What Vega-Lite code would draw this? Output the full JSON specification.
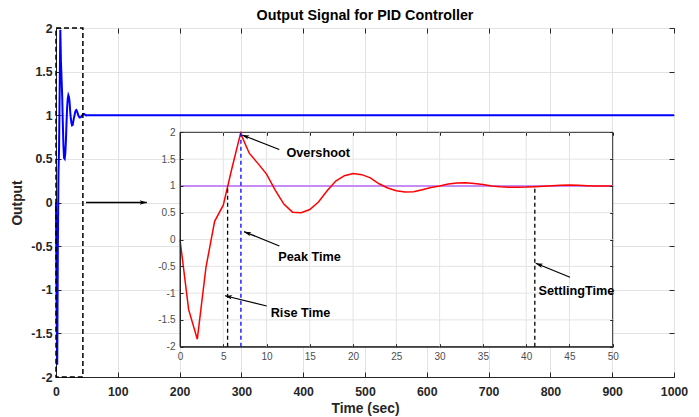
{
  "$schema": "https://vega.github.io/schema/vega-lite/v6.json",
  "width": 618,
  "height": 349,
  "autosize": {"type": "none"},
  "padding": {"left": 56, "top": 28, "right": 25, "bottom": 40},
  "background": "white",
  "config": {
    "font": "Liberation Sans",
    "view": {"stroke": "#262626", "strokeWidth": 1}
  },
  "title": {"text": "Output Signal for PID Controller", "fontSize": 14.3, "fontWeight": "bold", "color": "#000000", "offset": -1, "anchor": "middle", "font": "Liberation Sans"},
  "datasets": {
    "signal": [
      {"t": 0, "y": 0}, {"t": 1, "y": -1.31}, {"t": 2, "y": -1.86}, {"t": 3, "y": -0.52},
      {"t": 4, "y": 0.34}, {"t": 5, "y": 0.64}, {"t": 6, "y": 1.33}, {"t": 7, "y": 1.98},
      {"t": 8, "y": 1.61}, {"t": 9, "y": 1.42}, {"t": 10, "y": 1.22}, {"t": 11, "y": 0.92},
      {"t": 12, "y": 0.66}, {"t": 13, "y": 0.51}, {"t": 14, "y": 0.5}, {"t": 15, "y": 0.56},
      {"t": 16, "y": 0.7}, {"t": 17, "y": 0.91}, {"t": 18, "y": 1.09}, {"t": 19, "y": 1.19},
      {"t": 20, "y": 1.23}, {"t": 21, "y": 1.21}, {"t": 22, "y": 1.15}, {"t": 23, "y": 1.04},
      {"t": 24, "y": 0.96}, {"t": 25, "y": 0.91}, {"t": 26, "y": 0.885}, {"t": 27, "y": 0.89},
      {"t": 28, "y": 0.93}, {"t": 29, "y": 0.97}, {"t": 30, "y": 1.0}, {"t": 31, "y": 1.035},
      {"t": 32, "y": 1.055}, {"t": 33, "y": 1.06}, {"t": 34, "y": 1.045}, {"t": 35, "y": 1.025},
      {"t": 36, "y": 1.0}, {"t": 37, "y": 0.985}, {"t": 38, "y": 0.975}, {"t": 39, "y": 0.975},
      {"t": 40, "y": 0.978}, {"t": 41, "y": 0.985}, {"t": 42, "y": 0.995}, {"t": 43, "y": 1.005},
      {"t": 44, "y": 1.012}, {"t": 45, "y": 1.015}, {"t": 46, "y": 1.012}, {"t": 47, "y": 1.005},
      {"t": 48, "y": 1.0}, {"t": 49, "y": 0.998}, {"t": 50, "y": 1.0}, {"t": 1000, "y": 1.0}
    ],
    "zoombox": [{"t0": 0, "t1": 43.5, "y0": -2, "y1": 2}],
    "link": [{"t0": 48.5, "t1": 147, "y": 0}],
    "frame": [{"t0": 0, "t1": 50, "y0": -2, "y1": 2}],
    "insetGridT": [{"t": 5}, {"t": 10}, {"t": 15}, {"t": 20}, {"t": 25}, {"t": 30}, {"t": 35}, {"t": 40}, {"t": 45}],
    "insetGridY": [{"y": -1.5}, {"y": -1}, {"y": -0.5}, {"y": 0}, {"y": 0.5}, {"y": 1}, {"y": 1.5}],
    "reference": [{"t0": 0, "t1": 50, "y": 1}],
    "markers": [
      {"name": "Rise Time", "t": 5.5, "y0": -2, "y1": 1},
      {"name": "Peak Time", "t": 7.04, "y0": -2, "y1": 2},
      {"name": "SettlingTime", "t": 41.0, "y0": -2, "y1": 1}
    ],
    "notes": [
      {"label": "Overshoot", "tipT": 7.17, "tipY": 1.95, "tailT": 11.47, "tailY": 1.68, "textT": 12.3, "textY": 1.61},
      {"label": "Peak Time", "tipT": 7.4, "tipY": 0.146, "tailT": 11.48, "tailY": -0.12, "textT": 11.36, "textY": -0.33},
      {"label": "Rise Time", "tipT": 5.2, "tipY": -1.05, "tailT": 10.02, "tailY": -1.24, "textT": 10.48, "textY": -1.38},
      {"label": "SettlingTime", "tipT": 41.1, "tipY": -0.444, "tailT": 45.07, "tailY": -0.705, "textT": 41.42, "textY": -0.96}
    ]
  },
  "resolve": {"scale": {"x": "independent", "y": "independent"}},
  "layer": [
    {
      "data": {"name": "signal"},
      "mark": {"type": "line", "color": "#0000ff", "strokeWidth": 2},
      "encoding": {
        "x": {"field": "t", "type": "quantitative", "scale": {"domain": [0, 1000], "nice": false, "zero": false},
          "axis": {"orient": "bottom", "values": [0, 100, 200, 300, 400, 500, 600, 700, 800, 900, 1000], "labelExpr": "'' + datum.value",
            "grid": true, "gridColor": "#e3e3e3", "tickSize": -5, "labelPadding": 13, "labelFontSize": 12.3, "labelFontWeight": "bold",
            "labelColor": "#262626", "domainColor": "#262626", "tickColor": "#262626", "title": "Time (sec)", "titleFontSize": 13.8,
            "titleFontWeight": "bold", "titleColor": "#262626", "titlePadding": 4, "labelFlush": false}},
        "y": {"field": "y", "type": "quantitative", "scale": {"domain": [-2, 2], "nice": false, "zero": false},
          "axis": {"orient": "left", "values": [-2, -1.5, -1, -0.5, 0, 0.5, 1, 1.5, 2], "labelExpr": "'' + datum.value",
            "grid": true, "gridColor": "#e3e3e3", "tickSize": -5, "labelPadding": 9, "labelFontSize": 12.3, "labelFontWeight": "bold",
            "labelColor": "#262626", "domainColor": "#262626", "tickColor": "#262626", "title": "Output", "titleFontSize": 13.8,
            "titleFontWeight": "bold", "titleColor": "#262626", "titlePadding": 6, "labelFlush": false}}
      }
    },
    {
      "data": {"name": "zoombox"},
      "mark": {"type": "rect", "fill": null, "fillOpacity": 0, "stroke": "#000000", "strokeWidth": 1.5, "strokeDash": [5, 3]},
      "encoding": {
        "x": {"field": "t0", "type": "quantitative", "scale": {"domain": [0, 1000], "nice": false, "zero": false},
          "axis": {"orient": "top", "values": [0, 100, 200, 300, 400, 500, 600, 700, 800, 900, 1000], "labels": false, "domain": false,
            "grid": false, "tickSize": -5, "tickColor": "#262626", "title": null}},
        "x2": {"field": "t1"},
        "y": {"field": "y0", "type": "quantitative", "scale": {"domain": [-2, 2], "nice": false, "zero": false},
          "axis": {"orient": "right", "values": [-2, -1.5, -1, -0.5, 0, 0.5, 1, 1.5, 2], "labels": false, "domain": false,
            "grid": false, "tickSize": -5, "tickColor": "#262626", "title": null}},
        "y2": {"field": "y1"}
      }
    },
    {
      "data": {"name": "link"},
      "mark": {"type": "rule", "color": "#000000", "strokeWidth": 1.3},
      "encoding": {
        "x": {"field": "t0", "type": "quantitative", "scale": {"domain": [0, 1000], "nice": false, "zero": false}, "axis": null},
        "x2": {"field": "t1"},
        "y": {"field": "y", "type": "quantitative", "scale": {"domain": [-2, 2], "nice": false, "zero": false}, "axis": null}
      }
    },
    {
      "data": {"name": "link"},
      "mark": {"type": "point", "shape": "M0,0L-0.55,1.8L0,1.35L0.55,1.8Z", "angle": 90, "size": 64, "filled": true, "color": "#000000", "opacity": 1},
      "encoding": {
        "x": {"field": "t1", "type": "quantitative", "scale": {"domain": [0, 1000], "nice": false, "zero": false}, "axis": null},
        "y": {"field": "y", "type": "quantitative", "scale": {"domain": [-2, 2], "nice": false, "zero": false}, "axis": null}
      }
    },
    {
      "data": {"name": "frame"},
      "mark": {"type": "rect", "fill": "#ffffff", "stroke": "#262626", "strokeWidth": 1},
      "encoding": {
        "x": {"field": "t0", "type": "quantitative", "scale": {"domain": [0, 50], "range": [124, 556.7], "nice": false, "zero": false},
          "axis": {"orient": "bottom", "offset": -30.3, "values": [0, 5, 10, 15, 20, 25, 30, 35, 40, 45, 50], "labelExpr": "'' + datum.value",
            "grid": false, "tickSize": -3, "labelPadding": 8, "labelFontSize": 10, "labelFontWeight": "normal",
            "labelColor": "#4d4d4d", "domainColor": "#262626", "tickColor": "#262626", "title": null, "zindex": 1, "labelFlush": false}},
        "x2": {"field": "t1"},
        "y": {"field": "y0", "type": "quantitative", "scale": {"domain": [-2, 2], "range": [318.7, 104.3], "nice": false, "zero": false},
          "axis": {"orient": "left", "offset": -124, "values": [-2, -1.5, -1, -0.5, 0, 0.5, 1, 1.5, 2], "labelExpr": "'' + datum.value",
            "grid": false, "tickSize": -3, "labelPadding": 8, "labelFontSize": 10, "labelFontWeight": "normal",
            "labelColor": "#4d4d4d", "domainColor": "#262626", "tickColor": "#262626", "title": null, "zindex": 1, "labelFlush": false}},
        "y2": {"field": "y1"}
      }
    },
    {
      "data": {"name": "frame"},
      "mark": {"type": "rect", "fill": null, "fillOpacity": 0, "stroke": null, "strokeWidth": 0},
      "encoding": {
        "x": {"field": "t0", "type": "quantitative", "scale": {"domain": [0, 50], "range": [124, 556.7], "nice": false, "zero": false},
          "axis": {"orient": "top", "offset": -104.3, "values": [0, 5, 10, 15, 20, 25, 30, 35, 40, 45, 50], "labels": false, "domain": false,
            "grid": false, "tickSize": -3, "tickColor": "#262626", "title": null, "zindex": 1}},
        "x2": {"field": "t1"},
        "y": {"field": "y0", "type": "quantitative", "scale": {"domain": [-2, 2], "range": [318.7, 104.3], "nice": false, "zero": false},
          "axis": {"orient": "right", "offset": -61.3, "values": [-2, -1.5, -1, -0.5, 0, 0.5, 1, 1.5, 2], "labels": false, "domain": false,
            "grid": false, "tickSize": -3, "tickColor": "#262626", "title": null, "zindex": 1}},
        "y2": {"field": "y1"}
      }
    },
    {
      "data": {"name": "insetGridT"},
      "mark": {"type": "rule", "color": "#e3e3e3", "strokeWidth": 1},
      "encoding": {
        "x": {"field": "t", "type": "quantitative", "scale": {"domain": [0, 50], "range": [124, 556.7], "nice": false, "zero": false}, "axis": null},
        "y": {"datum": -2, "type": "quantitative", "scale": {"domain": [-2, 2], "range": [318.7, 104.3], "nice": false, "zero": false}, "axis": null},
        "y2": {"datum": 2}
      }
    },
    {
      "data": {"name": "insetGridY"},
      "mark": {"type": "rule", "color": "#e3e3e3", "strokeWidth": 1},
      "encoding": {
        "x": {"datum": 0, "type": "quantitative", "scale": {"domain": [0, 50], "range": [124, 556.7], "nice": false, "zero": false}, "axis": null},
        "x2": {"datum": 50},
        "y": {"field": "y", "type": "quantitative", "scale": {"domain": [-2, 2], "range": [318.7, 104.3], "nice": false, "zero": false}, "axis": null}
      }
    },
    {
      "data": {"name": "reference"},
      "mark": {"type": "rule", "color": "#c58cf5", "strokeWidth": 2},
      "encoding": {
        "x": {"field": "t0", "type": "quantitative", "scale": {"domain": [0, 50], "range": [124, 556.7], "nice": false, "zero": false}, "axis": null},
        "x2": {"field": "t1"},
        "y": {"field": "y", "type": "quantitative", "scale": {"domain": [-2, 2], "range": [318.7, 104.3], "nice": false, "zero": false}, "axis": null}
      }
    },
    {
      "data": {"name": "signal"},
      "transform": [{"filter": "datum.t <= 50"}],
      "mark": {"type": "line", "color": "#ff0000", "strokeWidth": 1.5},
      "encoding": {
        "x": {"field": "t", "type": "quantitative", "scale": {"domain": [0, 50], "range": [124, 556.7], "nice": false, "zero": false}, "axis": null},
        "y": {"field": "y", "type": "quantitative", "scale": {"domain": [-2, 2], "range": [318.7, 104.3], "nice": false, "zero": false}, "axis": null}
      }
    },
    {
      "data": {"name": "markers"},
      "mark": {"type": "rule", "strokeWidth": 1.3, "strokeDash": [4, 3]},
      "encoding": {
        "x": {"field": "t", "type": "quantitative", "scale": {"domain": [0, 50], "range": [124, 556.7], "nice": false, "zero": false}, "axis": null},
        "y": {"field": "y0", "type": "quantitative", "scale": {"domain": [-2, 2], "range": [318.7, 104.3], "nice": false, "zero": false}, "axis": null},
        "y2": {"field": "y1"},
        "color": {"field": "name", "type": "nominal", "scale": {"domain": ["Rise Time", "Peak Time", "SettlingTime"], "range": ["#000000", "#0000ff", "#000000"]}, "legend": null}
      }
    },
    {
      "data": {"name": "notes"},
      "mark": {"type": "rule", "color": "#000000", "strokeWidth": 1.2},
      "encoding": {
        "x": {"field": "tipT", "type": "quantitative", "scale": {"domain": [0, 50], "range": [124, 556.7], "nice": false, "zero": false}, "axis": null},
        "x2": {"field": "tailT"},
        "y": {"field": "tipY", "type": "quantitative", "scale": {"domain": [-2, 2], "range": [318.7, 104.3], "nice": false, "zero": false}, "axis": null},
        "y2": {"field": "tailY"}
      }
    },
    {
      "data": {"name": "notes"},
      "transform": [{"filter": "datum.label == 'Overshoot' || datum.label == 'Peak Time' || datum.label == 'SettlingTime'"}],
      "mark": {"type": "point", "shape": "M0,0L-0.55,1.8L0,1.35L0.55,1.8Z", "angle": 291, "size": 64, "filled": true, "color": "#000000", "opacity": 1},
      "encoding": {
        "x": {"field": "tipT", "type": "quantitative", "scale": {"domain": [0, 50], "range": [124, 556.7], "nice": false, "zero": false}, "axis": null},
        "y": {"field": "tipY", "type": "quantitative", "scale": {"domain": [-2, 2], "range": [318.7, 104.3], "nice": false, "zero": false}, "axis": null}
      }
    },
    {
      "data": {"name": "notes"},
      "transform": [{"filter": "datum.label == 'Rise Time'"}],
      "mark": {"type": "point", "shape": "M0,0L-0.55,1.8L0,1.35L0.55,1.8Z", "angle": 283.5, "size": 64, "filled": true, "color": "#000000", "opacity": 1},
      "encoding": {
        "x": {"field": "tipT", "type": "quantitative", "scale": {"domain": [0, 50], "range": [124, 556.7], "nice": false, "zero": false}, "axis": null},
        "y": {"field": "tipY", "type": "quantitative", "scale": {"domain": [-2, 2], "range": [318.7, 104.3], "nice": false, "zero": false}, "axis": null}
      }
    },
    {
      "data": {"name": "notes"},
      "mark": {"type": "text", "align": "left", "baseline": "middle", "fontSize": 12.7, "fontWeight": "bold", "color": "#000000", "font": "Liberation Sans"},
      "encoding": {
        "x": {"field": "textT", "type": "quantitative", "scale": {"domain": [0, 50], "range": [124, 556.7], "nice": false, "zero": false}, "axis": null},
        "y": {"field": "textY", "type": "quantitative", "scale": {"domain": [-2, 2], "range": [318.7, 104.3], "nice": false, "zero": false}, "axis": null},
        "text": {"field": "label"}
      }
    }
  ]
}
